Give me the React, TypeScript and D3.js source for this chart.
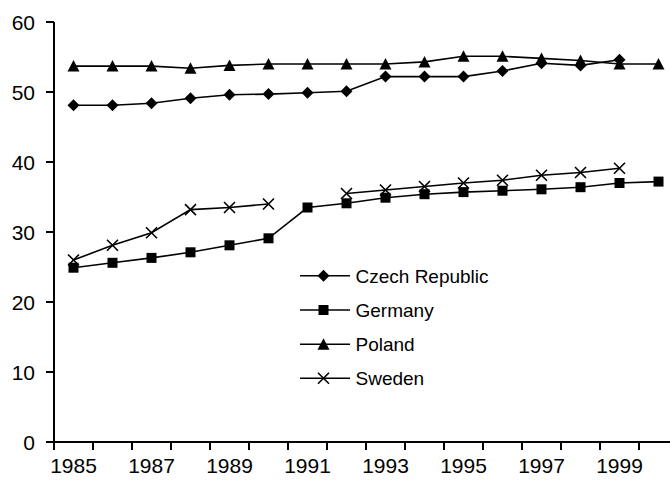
import React from "react";
import * as d3 from "d3";

const years = [1985, 1986, 1987, 1988, 1989, 1990, 1991, 1992, 1993, 1994, 1995, 1996, 1997, 1998, 1999, 2000];
const czech: (number | null)[] = [48.1, 48.1, 48.4, 49.1, 49.6, 49.7, 49.9, 50.1, 52.2, 52.2, 52.2, 53.0, 54.1, 53.8, 54.6, null];
const germany: (number | null)[] = [24.9, 25.6, 26.3, 27.1, 28.1, 29.1, 33.5, 34.1, 34.9, 35.4, 35.7, 35.9, 36.1, 36.4, 37.0, 37.2];
const poland: (number | null)[] = [53.7, 53.7, 53.7, 53.4, 53.8, 54.0, 54.0, 54.0, 54.0, 54.3, 55.1, 55.1, 54.8, 54.5, 54.0, 54.0];
const sweden: (number | null)[] = [26.0, 28.1, 29.9, 33.2, 33.5, 34.0, null, 35.5, 36.0, 36.5, 37.0, 37.4, 38.1, 38.5, 39.1, null];
const seriesNames = ["Czech Republic", "Germany", "Poland", "Sweden"];
const seriesMarkers = ["diamond", "square", "triangle", "cross"];
const yTicks = [0, 10, 20, 30, 40, 50, 60];
const xLabelYears = [1985, 1987, 1989, 1991, 1993, 1995, 1997, 1999];

const W = 670;
const H = 483;
const left = 54;
const step = 39;
const top = 22;
const bottom = 442;

function Marker({ type, x, y }: { type: string; x: number; y: number }) {
  if (type === "diamond") {
    const r = 6;
    return <path d={`M${x},${y - r}L${x + r},${y}L${x},${y + r}L${x - r},${y}Z`} fill="#000" />;
  }
  if (type === "square") {
    const s = 10;
    return <rect x={x - s / 2} y={y - s / 2} width={s} height={s} fill="#000" />;
  }
  if (type === "triangle") {
    const w = 12, h = 11;
    return <path d={`M${x},${y - h / 2 - 0.5}L${x + w / 2},${y + h / 2}L${x - w / 2},${y + h / 2}Z`} fill="#000" />;
  }
  const r = 5.5;
  return (
    <path d={`M${x - r},${y - r}L${x + r},${y + r}M${x - r},${y + r}L${x + r},${y - r}`} stroke="#000" strokeWidth={1.6} fill="none" />
  );
}

export default function App() {
  const x = d3.scaleBand<number>().domain(years).range([left, left + step * years.length]).padding(0);
  const y = d3.scaleLinear().domain([0, 60]).range([bottom, top]);
  const cx = (yr: number) => (x(yr) as number) + x.bandwidth() / 2;
  const allSeries = [czech, germany, poland, sweden];

  const line = d3
    .line<number | null>()
    .defined((d) => d !== null)
    .x((_, i) => cx(years[i]))
    .y((d) => y(d as number));

  const legendY = [275.7, 310, 344.3, 378.3];
  const font = "'Liberation Sans', Arial, sans-serif";

  return (
    <div style={{ position: "absolute", left: 0, top: 0 }}>
      <svg width={W} height={H} style={{ display: "block", background: "#fff" }}>
        {/* axes */}
        <line x1={left} x2={left} y1={top} y2={bottom} stroke="#000" strokeWidth={2} />
        <line x1={left} x2={W + 20} y1={bottom} y2={bottom} stroke="#000" strokeWidth={2} />
        {yTicks.map((t) => (
          <g key={t}>
            <line x1={left - 8} x2={left} y1={y(t)} y2={y(t)} stroke="#000" strokeWidth={2} />
            <text x={35} y={y(t) + 7.5} textAnchor="end" fontFamily={font} fontSize={21} fill="#000">
              {t}
            </text>
          </g>
        ))}
        {years.map((yr) => (
          <line key={yr} x1={x(yr) as number} x2={x(yr) as number} y1={bottom} y2={bottom + 8} stroke="#000" strokeWidth={2} />
        ))}
        {xLabelYears.map((yr) => (
          <text key={yr} x={cx(yr)} y={473} textAnchor="middle" fontFamily={font} fontSize={21} fill="#000">
            {yr}
          </text>
        ))}
        {/* series */}
        {allSeries.map((s, si) => (
          <g key={si}>
            <path d={line(s) || ""} fill="none" stroke="#000" strokeWidth={1.6} />
            {s.map((v, i) => (v === null ? null : <Marker key={i} type={seriesMarkers[si]} x={cx(years[i])} y={y(v)} />))}
          </g>
        ))}
        {/* legend */}
        {seriesNames.map((name, i) => (
          <g key={name}>
            <line x1={300} x2={350} y1={legendY[i]} y2={legendY[i]} stroke="#000" strokeWidth={1.6} />
            <Marker type={seriesMarkers[i]} x={323.5} y={legendY[i]} />
            <text x={355.5} y={legendY[i] + 7} fontFamily={font} fontSize={19} fill="#000">
              {name}
            </text>
          </g>
        ))}
      </svg>
    </div>
  );
}
